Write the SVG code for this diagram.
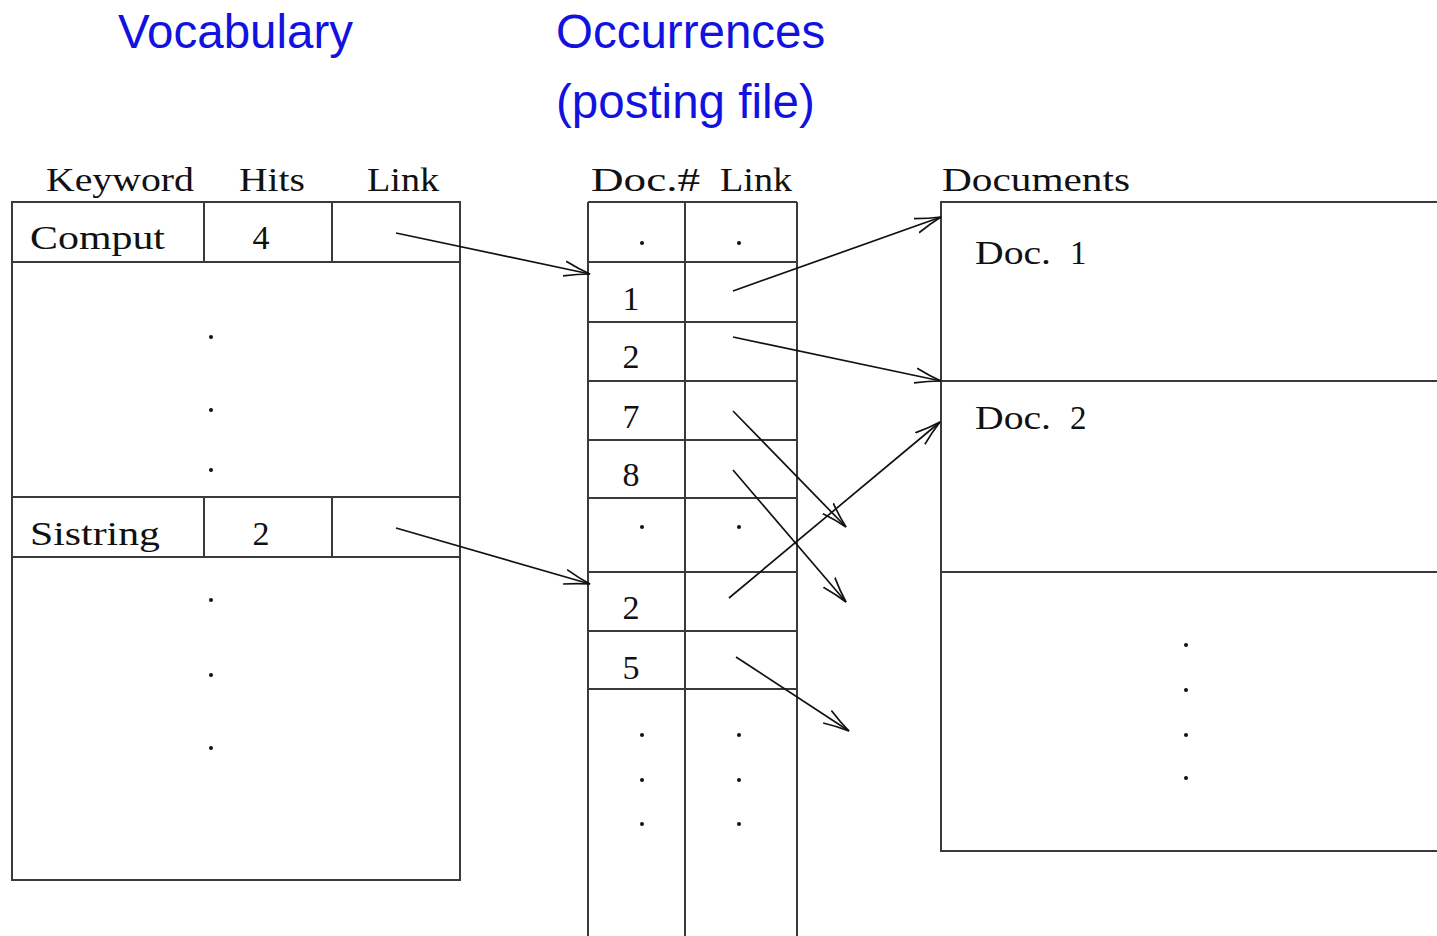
<svg xmlns="http://www.w3.org/2000/svg" width="1437" height="936" viewBox="0 0 1437 936">
<defs>
<style>
.frame{fill:none;stroke:#3a3a3a;stroke-width:2}
.ln{stroke:#3a3a3a;stroke-width:2}
.cm{font-family:"Liberation Serif","DejaVu Serif",serif;font-size:33px;fill:#111}
.num{font-family:"Liberation Serif","DejaVu Serif",serif;font-size:34px;fill:#111;text-anchor:middle}
.blue{font-family:"Liberation Sans",Arial,sans-serif;font-size:47.5px;fill:#1212e0}
.dot{fill:#111}
.arr{fill:none;stroke:#111;stroke-width:1.7;marker-end:url(#ah)}
</style>
<marker id="ah" viewBox="0 0 28 18" refX="26" refY="9" markerWidth="28" markerHeight="18" markerUnits="userSpaceOnUse" orient="auto">
<path d="M0,1.5 Q14,6.5 26,9 Q14,11.5 0,16.5" fill="none" stroke="#111" stroke-width="1.7"/>
</marker>
</defs>

<g id="titles">
<text class="blue" x="118" y="48">Vocabulary</text>
<text class="blue" x="556" y="48">Occurrences</text>
<text class="blue" x="556" y="118">(posting file)</text>
</g>

<g id="vocabulary">
<text class="cm" x="46" y="191" textLength="148" lengthAdjust="spacingAndGlyphs">Keyword</text>
<text class="cm" x="239" y="191" textLength="66" lengthAdjust="spacingAndGlyphs">Hits</text>
<text class="cm" x="367" y="191" textLength="72" lengthAdjust="spacingAndGlyphs">Link</text>
<rect class="frame" x="12" y="202" width="448" height="678"/>
<line class="ln" x1="12" y1="262" x2="460" y2="262"/>
<line class="ln" x1="12" y1="497" x2="460" y2="497"/>
<line class="ln" x1="12" y1="557" x2="460" y2="557"/>
<line class="ln" x1="204" y1="202" x2="204" y2="262"/>
<line class="ln" x1="332" y1="202" x2="332" y2="262"/>
<line class="ln" x1="204" y1="497" x2="204" y2="557"/>
<line class="ln" x1="332" y1="497" x2="332" y2="557"/>
<text class="cm" x="30" y="249" textLength="135" lengthAdjust="spacingAndGlyphs">Comput</text>
<text class="num" x="261" y="249">4</text>
<text class="cm" x="30" y="545" textLength="130" lengthAdjust="spacingAndGlyphs">Sistring</text>
<text class="num" x="261" y="545">2</text>
<circle class="dot" cx="211" cy="337" r="2"/>
<circle class="dot" cx="211" cy="410" r="2"/>
<circle class="dot" cx="211" cy="470" r="2"/>
<circle class="dot" cx="211" cy="600" r="2"/>
<circle class="dot" cx="211" cy="675" r="2"/>
<circle class="dot" cx="211" cy="748" r="2"/>
</g>

<g id="postings">
<text class="cm" x="591" y="191" textLength="109" lengthAdjust="spacingAndGlyphs">Doc.#</text>
<text class="cm" x="720" y="191" textLength="72" lengthAdjust="spacingAndGlyphs">Link</text>
<line class="ln" x1="588" y1="202" x2="797" y2="202"/>
<line class="ln" x1="588" y1="202" x2="588" y2="936"/>
<line class="ln" x1="685" y1="202" x2="685" y2="936"/>
<line class="ln" x1="797" y1="202" x2="797" y2="936"/>
<line class="ln" x1="588" y1="262" x2="797" y2="262"/>
<line class="ln" x1="588" y1="322" x2="797" y2="322"/>
<line class="ln" x1="588" y1="381" x2="797" y2="381"/>
<line class="ln" x1="588" y1="440" x2="797" y2="440"/>
<line class="ln" x1="588" y1="498" x2="797" y2="498"/>
<line class="ln" x1="588" y1="572" x2="797" y2="572"/>
<line class="ln" x1="588" y1="631" x2="797" y2="631"/>
<line class="ln" x1="588" y1="689" x2="797" y2="689"/>
<circle class="dot" cx="642" cy="243" r="2"/>
<circle class="dot" cx="739" cy="243" r="2"/>
<text class="num" x="631" y="310">1</text>
<text class="num" x="631" y="368">2</text>
<text class="num" x="631" y="428">7</text>
<text class="num" x="631" y="486">8</text>
<circle class="dot" cx="642" cy="527" r="2"/>
<circle class="dot" cx="739" cy="527" r="2"/>
<text class="num" x="631" y="619">2</text>
<text class="num" x="631" y="679">5</text>
<circle class="dot" cx="642" cy="735" r="2"/>
<circle class="dot" cx="739" cy="735" r="2"/>
<circle class="dot" cx="642" cy="780" r="2"/>
<circle class="dot" cx="739" cy="780" r="2"/>
<circle class="dot" cx="642" cy="824" r="2"/>
<circle class="dot" cx="739" cy="824" r="2"/>
</g>

<g id="documents">
<text class="cm" x="942" y="191" textLength="188" lengthAdjust="spacingAndGlyphs">Documents</text>
<rect class="frame" x="941" y="202" width="520" height="649"/>
<line class="ln" x1="941" y1="381" x2="1437" y2="381"/>
<line class="ln" x1="941" y1="572" x2="1437" y2="572"/>
<text class="cm" x="975" y="264" textLength="76" lengthAdjust="spacingAndGlyphs">Doc.</text>
<text class="cm" x="1070" y="264">1</text>
<text class="cm" x="975" y="429" textLength="76" lengthAdjust="spacingAndGlyphs">Doc.</text>
<text class="cm" x="1070" y="429">2</text>
<circle class="dot" cx="1186" cy="645" r="2"/>
<circle class="dot" cx="1186" cy="690" r="2"/>
<circle class="dot" cx="1186" cy="735" r="2"/>
<circle class="dot" cx="1186" cy="778" r="2"/>
</g>

<g id="connectors">
<line class="arr" x1="396" y1="233" x2="590" y2="274"/>
<line class="arr" x1="396" y1="528" x2="590" y2="584"/>
<line class="arr" x1="733" y1="291" x2="941" y2="217"/>
<line class="arr" x1="733" y1="337" x2="941" y2="381"/>
<line class="arr" x1="733" y1="411" x2="846" y2="527"/>
<line class="arr" x1="733" y1="470" x2="846" y2="602"/>
<line class="arr" x1="729" y1="598" x2="940" y2="422"/>
<line class="arr" x1="736" y1="657" x2="849" y2="731"/>
</g>
</svg>
